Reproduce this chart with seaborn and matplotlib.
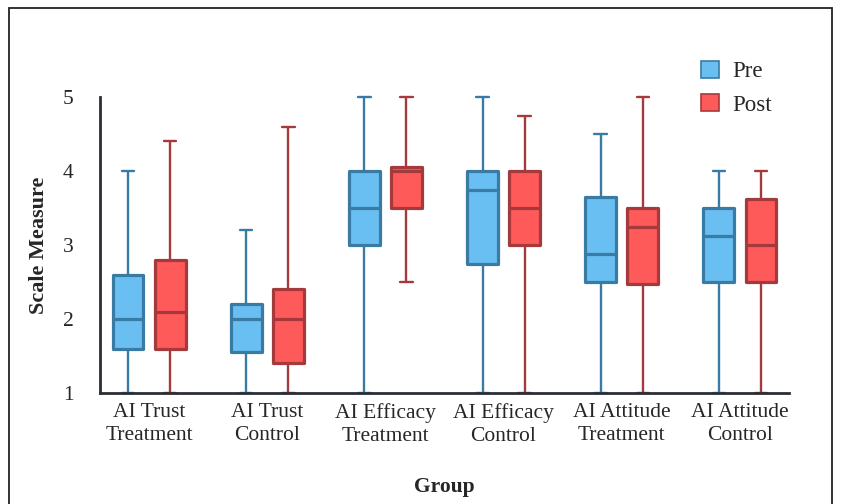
import matplotlib
matplotlib.use("Agg")
from matplotlib import pyplot as plt
from matplotlib.patches import Patch, Rectangle
import pandas as pd
import seaborn as sns

GROUPS = ["AI Trust\nTreatment", "AI Trust\nControl", "AI Efficacy\nTreatment",
          "AI Efficacy\nControl", "AI Attitude\nTreatment", "AI Attitude\nControl"]
TIMES = ["Pre", "Post"]

# five-number summaries: min, q1, median, q3, max
PRE_STATS = [
    [1.0, 1.6, 2.0, 2.6, 4.0],
    [1.0, 1.55, 2.0, 2.2, 3.2],
    [1.0, 3.0, 3.5, 4.0, 5.0],
    [1.0, 2.75, 3.75, 4.0, 5.0],
    [1.0, 2.5, 2.875, 3.65, 4.5],
    [1.0, 2.5, 3.125, 3.5, 4.0],
]
POST_STATS = [
    [1.0, 1.6, 2.1, 2.8, 4.4],
    [1.0, 1.4, 2.0, 2.4, 4.6],
    [2.5, 3.5, 4.0, 4.06, 5.0],
    [1.0, 3.0, 3.5, 4.0, 4.75],
    [1.0, 2.47, 3.25, 3.5, 5.0],
    [1.0, 2.5, 3.0, 3.625, 4.0],
]

FILLS = ["#69BFF1", "#FF5A5A"]
EDGES = ["#3A7BA3", "#A53A3C"]

rows = []
for g, pre, post in zip(GROUPS, PRE_STATS, POST_STATS):
    rows += [(g, "Pre", v) for v in pre]
    rows += [(g, "Post", v) for v in post]
df = pd.DataFrame(rows, columns=["Group", "Time", "Score"])

sns.set_style("white")
plt.rcParams['font.family'] = ['Liberation Serif', 'DejaVu Serif']

fig = plt.figure(figsize=(8.41, 5.04), dpi=100)
ax = fig.add_axes([100 / 841, 1 - 393 / 504, 689 / 841, 296 / 504])

sns.boxplot(data=df, x="Group", y="Score", hue="Time", order=GROUPS,
            hue_order=TIMES, palette=FILLS, saturation=1, whis=(0, 100),
            width=0.712, gap=0.275, showfliers=False, legend=False, ax=ax)

# colour each hue level's lines
for cont, edge in zip(ax.containers, EDGES):
    for b in cont.boxes:
        b.set_edgecolor(edge)
        b.set_linewidth(2.3)
        b.set_joinstyle('round')
    for ln in list(cont.whiskers) + list(cont.caps):
        ln.set_color(edge)
        ln.set_linewidth(1.7)
        ln.set_clip_on(False)
    for cap in cont.caps:
        xs = cap.get_xdata()
        c = (min(xs) + max(xs)) / 2
        cap.set_xdata([c - 0.052, c + 0.052])
    for m in cont.medians:
        m.set_color(edge)
        m.set_linewidth(2.3)

ax.set_xlim(-0.417, 5.417)
ax.set_ylim(1, 5)
ax.set_yticks([1, 2, 3, 4, 5])
ax.spines['top'].set_visible(False)
ax.spines['right'].set_visible(False)
for s in ['left', 'bottom']:
    ax.spines[s].set_color('#2b2e36')
    ax.spines[s].set_linewidth(2)
ax.tick_params(axis='y', direction='out', length=7, width=1.8, color='#2b2e36',
               pad=12, labelsize=15.5)
ax.tick_params(axis='x', length=0, pad=7, labelsize=15.5)
for lbl in ax.get_xticklabels():
    lbl.set_linespacing(1.32)

ax.set_xlabel("Group", fontsize=15.5, fontweight='bold')
ax.set_ylabel("Scale Measure", fontsize=16, fontweight='bold')
ax.xaxis.set_label_coords(0.5, -0.285)
ax.yaxis.set_label_coords(-0.074, 0.5)

handles = [Patch(facecolor=f, edgecolor=e, lw=1.2, label=t)
           for f, e, t in zip(FILLS, EDGES, TIMES)]
fig.legend(handles=handles, loc='upper left', bbox_to_anchor=(680 / 841, 1 - 40 / 504),
           frameon=False, fontsize=16.5, handlelength=0.8, handleheight=0.8,
           handletextpad=0.6, labelspacing=0.5)

# thin frame round the figure
fig.patches.append(Rectangle((9 / 841, -0.05), 823 / 841, 1.05 - 8 / 504,
                             transform=fig.transFigure, fill=False,
                             edgecolor='#222222', lw=1.3))

fig.savefig('out.png', dpi=100)
